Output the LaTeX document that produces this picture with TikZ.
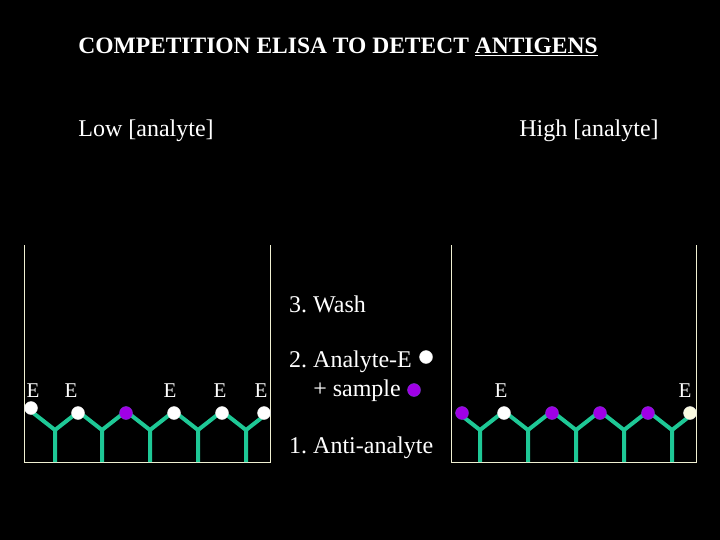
\documentclass[tikz,border=0pt]{standalone}
\usepackage{fontspec}
\setmainfont{Liberation Serif}
\frenchspacing
\begin{document}
\begin{tikzpicture}[x=1pt,y=-1pt,
  txt/.style={text=white,font=\fontsize{24}{27}\selectfont,inner sep=0pt},
  etxt/.style={text=white,font=\fontsize{21}{24}\selectfont,inner sep=0pt},
  well/.style={draw={rgb,255:red,240;green,240;blue,210},line width=1pt},
  ab/.style={draw={rgb,255:red,30;green,200;blue,150},line width=4pt},
  wd/.style={circle,fill=white,draw=white!80!gray,inner sep=0pt,minimum size=13pt},
  pd/.style={circle,fill={rgb,255:red,160;green,0;blue,230},draw={rgb,255:red,120;green,60;blue,200},inner sep=0pt,minimum size=13pt}]
\fill[black] (0,0) rectangle (720,540);
\useasboundingbox (0,0) rectangle (720,540);
\node[txt,font=\bfseries\fontsize{23.5}{27}\selectfont] (title) at (338,47) {COMPETITION ELISA TO DETECT \underline{ANTIGENS}};
\node[txt] (low) at (146,131) {Low [analyte]};
\node[txt] (high) at (589,131) {High [analyte]};
\node[txt,anchor=west] (wash) at (289,304) {3. Wash};
\node[txt,anchor=west] (s2) at (289,362) {2. Analyte-E};
\node[txt,anchor=east] (s2b) at (401,391) {+ sample};
\node[txt,anchor=west] (s1) at (289,448) {1. Anti-analyte};
\node[wd] (k1) at (426,357) {};
\node[pd] (k2) at (414,390) {};
% wells
\draw[well] (24,245) -- (24,462) -- (270,462) -- (270,245);
\draw[well] (451,245) -- (451,462) -- (696,462) -- (696,245);
% antibodies
\foreach \x in {55,102,150,198,246,480,528,576,624,672}{
  \draw[ab,line join=round] (\x,462) -- (\x,430) -- (\x-23,412);
  \draw[ab] (\x,430) -- (\x+23,412);
}
% left well dots
\node[wd] (l1) at (31,408) {};
\node[wd] (l2) at (78,413) {};
\node[pd] (l3) at (126,413) {};
\node[wd] (l4) at (174,413) {};
\node[wd] (l5) at (222,413) {};
\node[wd] (l6) at (264,413) {};
% right well dots
\node[pd] (r1) at (462,413) {};
\node[wd] (r2) at (504,413) {};
\node[pd] (r3) at (552,413) {};
\node[pd] (r4) at (600,413) {};
\node[pd] (r5) at (648,413) {};
\node[wd,fill={rgb,255:red,250;green,250;blue,225}] (r6) at (690,413) {};
% E labels
\foreach \x/\n in {33/a,71/b,170/c,220/d,261/e,501/f,685/g}
  \node[etxt] (E\n) at (\x,391) {E};
\end{tikzpicture}
\end{document}
